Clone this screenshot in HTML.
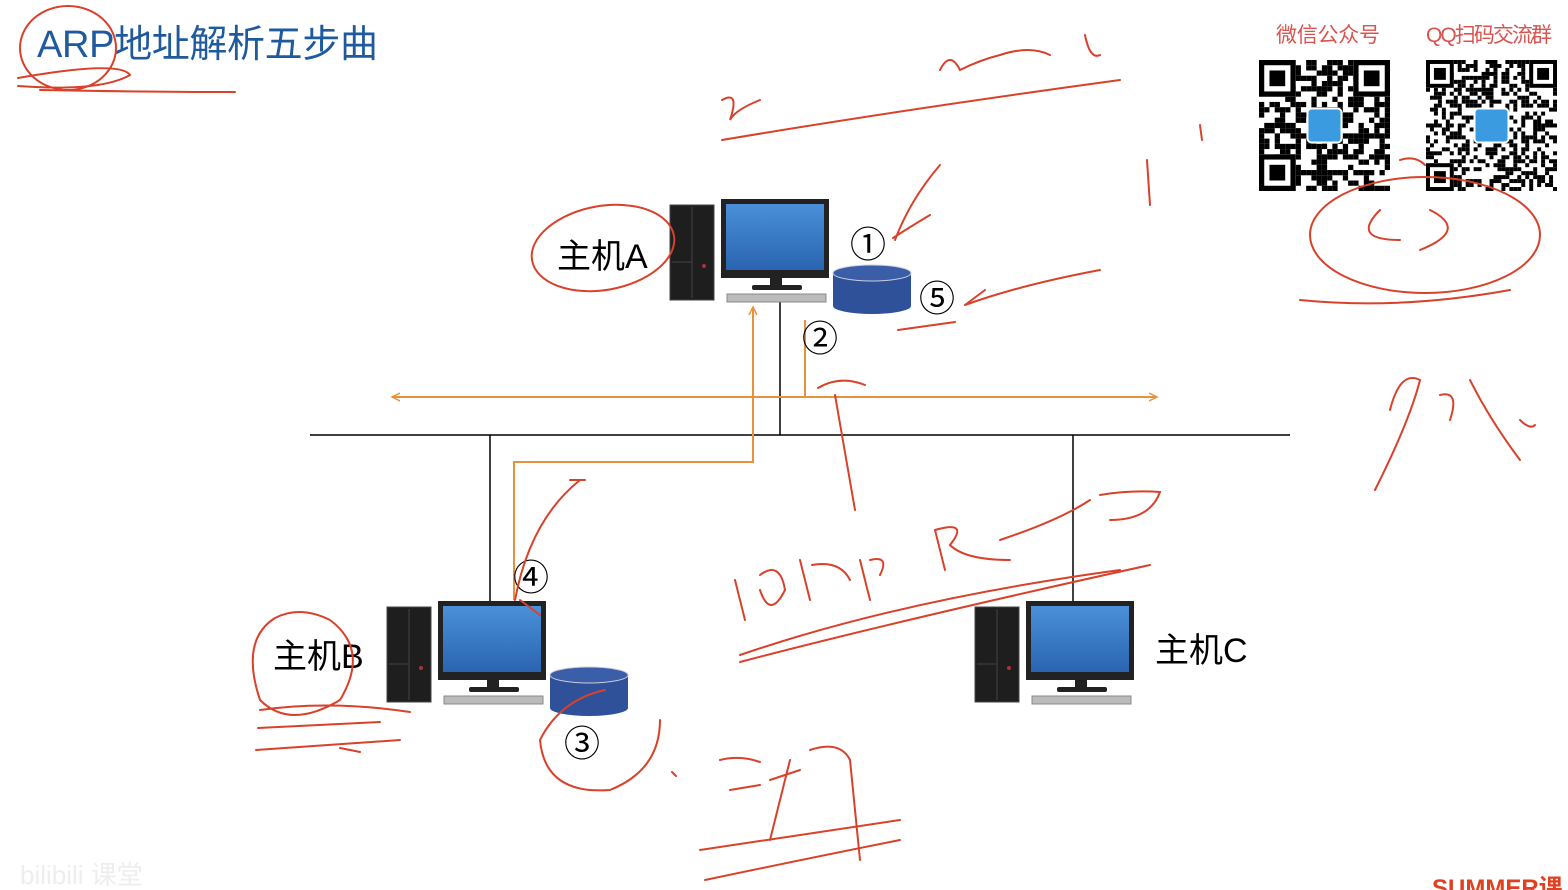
<!DOCTYPE html>
<html><head><meta charset="utf-8"><style>
html,body{margin:0;padding:0;background:#fff;width:1568px;height:890px;overflow:hidden}
svg{display:block}
text{font-family:"Liberation Sans","Noto Sans CJK SC",sans-serif}
</style></head><body>
<svg id="s" width="1568" height="890" viewBox="0 0 1568 890" xmlns="http://www.w3.org/2000/svg">
<defs>
<linearGradient id="scr" x1="0" y1="0" x2="0" y2="1"><stop offset="0" stop-color="#4a90d9"/><stop offset="1" stop-color="#2a64b0"/></linearGradient>
<g id="pc">
 <rect x="0" y="6" width="44" height="95" fill="#1e1e1e" stroke="#444"/>
 <line x1="22" y1="8" x2="22" y2="99" stroke="#444"/>
 <line x1="2" y1="63" x2="22" y2="63" stroke="#444"/>
 <circle cx="34" cy="67" r="2" fill="#a33"/>
 <rect x="51" y="0" width="108" height="79" fill="#222"/>
 <rect x="56" y="5" width="98" height="66" fill="url(#scr)"/>
 <rect x="100" y="79" width="12" height="8" fill="#222"/>
 <rect x="82" y="86" width="50" height="5" rx="2" fill="#222"/>
 <rect x="57" y="95" width="99" height="8" fill="#bbb" stroke="#888"/>
</g>
<g id="db">
 <path d="M0 8 A39 8 0 0 1 78 8 L78 41 A39 8 0 0 1 0 41 Z" fill="#2f519a"/>
 <ellipse cx="39" cy="8" rx="39" ry="8" fill="#3a5ea8" stroke="#ccd" stroke-width="1"/>
</g>
<marker id="ar" markerWidth="10" markerHeight="10" refX="8" refY="5" orient="auto" markerUnits="userSpaceOnUse"><path d="M0 1 L8 5 L0 9" fill="none" stroke="#e8913c" stroke-width="1.5"/></marker>
<marker id="al" markerWidth="10" markerHeight="10" refX="2" refY="5" orient="auto" markerUnits="userSpaceOnUse"><path d="M10 1 L2 5 L10 9" fill="none" stroke="#e8913c" stroke-width="1.5"/></marker>
</defs>

<text x="37" y="57" font-size="38" fill="#1f5a9e" textLength="341">ARP地址解析五步曲</text>
<text x="1276" y="42" font-size="21" fill="#d9534f" font-family="Noto Serif CJK SC,serif" textLength="104">微信公众号</text>
<text x="1426" y="42" font-size="21" fill="#d9534f" font-family="Noto Serif CJK SC,serif" textLength="126">QQ扫码交流群</text>
<g id="qr1"></g><g id="qr2"></g>

<line x1="310" y1="435" x2="1290" y2="435" stroke="#000" stroke-width="1.5"/>
<line x1="780" y1="300" x2="780" y2="435" stroke="#000" stroke-width="1.5"/>
<line x1="490" y1="435" x2="490" y2="603" stroke="#000" stroke-width="1.5"/>
<line x1="1073" y1="435" x2="1073" y2="603" stroke="#000" stroke-width="1.5"/>

<line x1="392" y1="397" x2="1157" y2="397" stroke="#e8913c" stroke-width="2" marker-start="url(#al)" marker-end="url(#ar)"/>
<line x1="805" y1="320" x2="805" y2="397" stroke="#e8913c" stroke-width="2"/>
<polyline points="514,600 514,462 753,462 753,307" fill="none" stroke="#e8913c" stroke-width="2" marker-end="url(#ar)"/>

<use href="#pc" x="670" y="199"/>
<use href="#pc" x="387" y="601"/>
<use href="#pc" x="975" y="601"/>
<use href="#db" x="833" y="265"/>
<use href="#db" x="550" y="667"/>

<text x="557" y="268" font-size="34">主机A</text>
<text x="273" y="668" font-size="34">主机B</text>
<text x="1155" y="662" font-size="34">主机C</text>
<g font-size="36" font-family="DejaVu Sans,sans-serif">
<text x="850" y="257">①</text>
<text x="802" y="351">②</text>
<text x="564" y="756">③</text>
<text x="513" y="590">④</text>
<text x="919" y="311">⑤</text>
</g>
<text x="1432" y="896" font-size="24" font-weight="bold" fill="#e04020">SUMMER课</text>
<text x="20" y="884" font-size="26" fill="#eee">bilibili 课堂</text>

<g fill="none" stroke="#d8412a" stroke-width="2" stroke-linecap="round">
<ellipse cx="68" cy="48" rx="48" ry="42"/>
<path d="M18 78 Q120 60 130 75 Q100 92 18 86 M40 90 Q150 92 235 92"/>
<ellipse cx="603" cy="248" rx="72" ry="42" transform="rotate(-10 603 248)"/>
<path d="M722 100 Q740 90 730 120 Q735 110 760 100 M722 140 Q900 110 1120 80 M940 70 Q950 50 960 70 Q980 60 1000 55 Q1030 45 1050 55 M1085 35 Q1090 60 1100 55"/>
<path d="M940 165 Q910 200 895 240 M893 238 Q905 230 930 215 M1100 270 Q1020 285 965 305 M965 305 L985 290 M898 330 L955 322"/>
<path d="M1147 160 L1150 205 M1200 125 L1202 140"/>
<ellipse cx="1425" cy="235" rx="115" ry="58"/>
<path d="M1300 300 Q1400 310 1510 290 M1380 210 Q1350 240 1400 240 M1430 210 Q1470 230 1420 250 M1390 410 Q1400 370 1420 380 Q1410 420 1375 490 M1440 395 Q1460 390 1450 420 M1470 380 Q1490 420 1520 460 M1520 420 Q1530 430 1535 425"/>
<path d="M818 388 Q840 375 865 385 M835 395 L855 510"/>
<path d="M735 580 L745 620 M760 575 Q780 560 785 590 Q770 620 760 590 M800 560 L810 600 M812 565 Q840 560 850 580 M860 560 L870 600 M870 560 Q890 555 880 575 M935 530 L945 570 M935 530 Q970 520 950 545 Q965 560 1010 560 M1000 540 Q1060 520 1090 500 M1100 495 Q1130 490 1160 492 Q1150 520 1110 520"/>
<path d="M740 662 Q900 620 1150 565 M740 655 Q900 600 1120 570"/>
<path d="M580 480 Q530 520 515 600 M570 480 L585 480 M520 600 L540 615"/>
<path d="M275 618 Q240 640 260 700 Q290 730 340 700 Q370 650 330 620 Q300 605 275 618"/>
<path d="M260 710 Q330 700 410 712 M258 728 L380 722 M256 750 L400 740 M340 748 L360 752"/>
<path d="M605 690 Q560 700 540 740 Q545 795 610 790 Q660 770 660 720"/>
<path d="M672 772 L676 776 M720 760 Q740 755 760 762 M730 790 L760 785 M770 780 L800 770 M790 760 L770 840 M810 750 Q840 740 850 760 L860 860 M700 850 L900 820 M705 880 Q800 860 900 840"/>
<path d="M1400 160 Q1415 155 1425 165"/>
</g>
</svg>
<script>
function qr(id,x,y,sz,n,seed){var g=document.getElementById(id),c=sz/n,s=seed,h='';
function r(){s=(s*9301+49297)%233280;return s/233280;}
for(var i=0;i<n;i++)for(var j=0;j<n;j++){if(r()<0.5)h+='<rect x="'+(x+j*c)+'" y="'+(y+i*c)+'" width="'+c+'" height="'+c+'" fill="#000"/>';}
[[0,0],[n-7,0],[0,n-7]].forEach(function(p){var px=x+p[0]*c,py=y+p[1]*c;
h+='<rect x="'+px+'" y="'+py+'" width="'+7*c+'" height="'+7*c+'" fill="#fff"/><rect x="'+(px+c/2)+'" y="'+(py+c/2)+'" width="'+6*c+'" height="'+6*c+'" fill="none" stroke="#000" stroke-width="'+c+'"/><rect x="'+(px+2*c)+'" y="'+(py+2*c)+'" width="'+3*c+'" height="'+3*c+'" fill="#000"/>';});
h+='<rect x="'+(x+sz/2-17)+'" y="'+(y+sz/2-17)+'" width="34" height="34" rx="4" fill="#3a9be0" stroke="#fff" stroke-width="2"/>';
g.innerHTML=h;}
qr('qr1',1259,60,131,25,7);qr('qr2',1426,60,131,33,13);
</script>
</body></html>
